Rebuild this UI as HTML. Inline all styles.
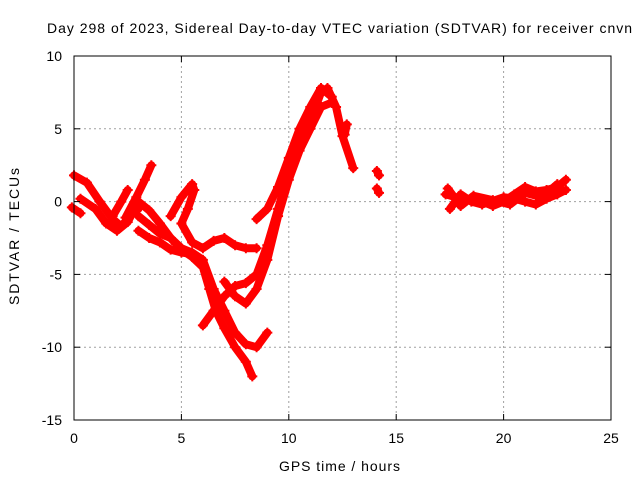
<!DOCTYPE html>
<html><head><meta charset="utf-8"><style>
body{margin:0;background:#fff;}
svg{display:block;font-family:"Liberation Sans",Arial,sans-serif;}
</style></head><body>
<svg id="chart" width="640" height="480">
<text x="47" y="33" font-size="14" textLength="585" lengthAdjust="spacing">Day 298 of 2023, Sidereal Day-to-day VTEC variation (SDTVAR) for receiver cnvn</text>
<text x="279" y="471" font-size="14" textLength="121" lengthAdjust="spacing">GPS time / hours</text>
<text transform="translate(19,305) rotate(-90)" font-size="14" textLength="137" lengthAdjust="spacing">SDTVAR / TECUs</text>
<g id="grid"></g><g id="series"></g><g id="axes"></g>
</svg>
<script>
const xTicks=[0,5,10,15,20,25];
const yTicks=[10,5,0,-5,-10,-15];
const trace1=[[0,1.8],[0.6,1.3],[1.2,0],[1.8,-1.2],[2.2,-1.7],[2.6,-1],[3.0,-0.5]];
const trace2=[[2.4,-1.1],[2.9,0.3],[3.3,1.5],[3.6,2.5]];
const trace3=[[1.8,-1],[2.2,0],[2.5,0.8]];
const trace4=[[0.3,0.2],[1,-0.5],[1.5,-1.5],[2,-2],[2.5,-1.4],[3,0],[3.5,-0.6],[4,-1.5],[4.5,-2.5],[5,-3.3],[5.5,-3.8],[6,-4.5],[6.3,-6],[6.6,-7.5],[7,-8.7],[7.5,-10],[8,-11],[8.3,-12]];
const trace5=[[3,-1],[3.5,-1.6],[4,-2.2],[4.5,-2.5],[5,-3.2],[5.5,-3.5],[6,-4],[6.5,-6],[7,-7.5],[7.5,-9],[8,-9.8],[8.5,-10],[9,-9]];
const trace6=[[3,-2],[3.5,-2.5],[4,-2.8],[4.5,-3.3],[5,-3.5],[5.5,-3.6]];
const trace7=[[4.5,-1],[5,0.3],[5.5,1.2],[5.6,0.8],[5.3,-0.5],[5,-1.5],[5.5,-2.8],[6,-3.2],[6.5,-2.7],[7,-2.5],[7.5,-3],[8,-3.2],[8.5,-3.2]];
const trace8=[[6,-8.5],[6.5,-7.5],[7,-6.5],[7.5,-5.8],[8,-5.6],[8.5,-5],[9,-3],[9.5,-0.5],[10,2],[10.5,4],[11,5.5],[11.5,7.5],[11.8,7.8],[12.2,6.5],[12.5,4.5],[13,2.3]];
const trace9=[[7,-5.5],[7.5,-6.5],[8,-7],[8.5,-6],[9,-4],[9.5,-1],[10,1.5],[10.5,3.5],[11,5],[11.5,6.5],[12,6.8]];
const trace10=[[8.5,-1.2],[9,-0.5],[9.5,1],[10,3],[10.5,5],[11,6.5],[11.5,7.8],[12,7.2]];
const trace11=[[12.6,4.6],[12.7,5.3]];
const trace12=[[14.1,2.1],[14.2,1.8]];
const trace13=[[14.1,0.9],[14.2,0.6]];
const trace14=[[-0.1,-0.4],[0.3,-0.8]];
const trace15=[[17.3,0.5],[18,0.2],[19,0],[19.5,-0.3],[20,0],[20.5,0.5],[21,1],[21.5,0.7],[22,0.8],[22.5,1],[22.9,1.5]];
const trace16=[[17.5,-0.5],[18,0.5],[18.5,0],[19,-0.2],[20,0.3],[20.5,0.2],[21,0],[21.5,-0.2],[22,0.2],[22.5,0.5],[22.9,0.8]];
const trace17=[[17.4,0.9],[18,-0.3],[18.6,0.4],[19.5,0.1],[20.3,-0.2],[21,0.6],[21.8,0.3],[22.5,1.2]];
const traces=[trace1,trace2,trace3,trace4,trace5,trace6,trace7,trace8,trace9,trace10,trace11,trace12,trace13,trace14,trace15,trace16,trace17];

const L=74,R=611,T=56,B=420,xmin=0,xmax=25,ymin=-15,ymax=10;
const X=v=>L+(v-xmin)/(xmax-xmin)*(R-L);
const Y=v=>B-(v-ymin)/(ymax-ymin)*(B-T);
const NS='http://www.w3.org/2000/svg';
function mk(tag,attrs,parent){const e=document.createElementNS(NS,tag);for(const k in attrs)e.setAttribute(k,attrs[k]);parent.appendChild(e);return e;}
const grid=document.getElementById('grid'),axes=document.getElementById('axes'),ser=document.getElementById('series');
xTicks.forEach(t=>{
  if(t>xmin&&t<xmax){const g=mk('line',{x1:X(t),x2:X(t),y1:T,y2:B,stroke:'#a0a0a0','stroke-dasharray':'2,3'},grid);
  
  }
  const tx=mk('text',{x:X(t),y:B+23,'font-size':14,'text-anchor':'middle'},axes);tx.textContent=t;
  
  
  mk('line',{x1:X(t),x2:X(t),y1:B,y2:B-6,stroke:'#000'},axes);
  mk('line',{x1:X(t),x2:X(t),y1:T,y2:T+6,stroke:'#000'},axes);
});
yTicks.forEach(t=>{
  if(t>ymin&&t<ymax){const g=mk('line',{x1:L,x2:R,y1:Y(t),y2:Y(t),stroke:'#a0a0a0','stroke-dasharray':'2,3'},grid);
  
  }
  const tx=mk('text',{x:L-12,y:Y(t)+5,'font-size':14,'text-anchor':'end'},axes);tx.textContent=t;
  
  
  mk('line',{x1:L,x2:L+6,y1:Y(t),y2:Y(t),stroke:'#000'},axes);
  mk('line',{x1:R,x2:R-6,y1:Y(t),y2:Y(t),stroke:'#000'},axes);
});
const fr=mk('rect',{x:L,y:T,width:R-L,height:B-T,fill:'none',stroke:'#000'},axes);


traces.forEach(tr=>{
  const pl=mk('polyline',{points:tr.map(p=>X(p[0])+','+Y(p[1])).join(' '),fill:'none',stroke:'#ff0000','stroke-width':8,'stroke-linejoin':'round','stroke-linecap':'round'},ser);
  
  
  tr.forEach(p=>{
    const px=X(p[0]),py=Y(p[1]);
    const m=mk('path',{d:`M${px-5},${py}H${px+5}M${px},${py-5}V${py+5}`,stroke:'#ff0000','stroke-width':2},ser);
    
    
  });
});
</script>
</body></html>
